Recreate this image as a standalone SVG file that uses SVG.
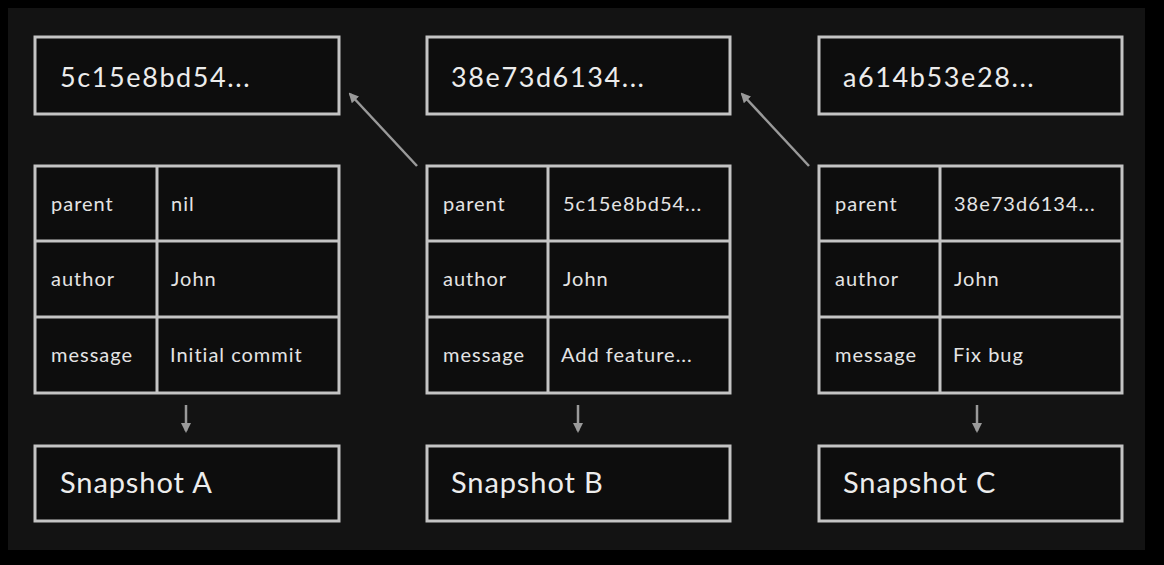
<svg xmlns="http://www.w3.org/2000/svg" width="1164" height="565" viewBox="0 0 1164 565">
<defs>
<style>
.box{fill:#0d0d0d;stroke:#c4c4c4;stroke-width:3}
.ln{stroke:#c4c4c4;stroke-width:3}
.hash{font-family:Lato,"Noto Sans",sans-serif;font-size:27px;fill:#ececec;letter-spacing:1.6px}
.snap{font-family:Lato,"Noto Sans",sans-serif;font-size:29px;fill:#ececec;letter-spacing:0.9px}
.cell{font-family:Lato,"Noto Sans",sans-serif;font-size:20px;fill:#e4e4e4;letter-spacing:1px}
.conn{stroke:#9a9a9a;stroke-width:2.5;fill:none}
</style>
<marker id="ah" viewBox="0 0 10 10" refX="8" refY="5" markerWidth="4" markerHeight="4" orient="auto">
<path d="M0,0 L10,5 L0,10 z" fill="#9a9a9a"/>
</marker>
</defs>
<rect width="1164" height="565" fill="#000"/>
<rect x="8" y="8" width="1137" height="542" fill="#131313"/>

<g id="commit-a">
<rect class="box" x="35" y="37" width="304" height="77"/>
<text class="hash" x="60" y="87">5c15e8bd54...</text>
<rect class="box" x="35" y="166" width="304" height="227"/>
<line class="ln" x1="157" y1="166" x2="157" y2="393"/>
<line class="ln" x1="35" y1="241" x2="339" y2="241"/>
<line class="ln" x1="35" y1="317" x2="339" y2="317"/>
<text class="cell" x="51" y="211">parent</text>
<text class="cell" x="171" y="211">nil</text>
<text class="cell" x="51" y="286">author</text>
<text class="cell" x="171" y="286">John</text>
<text class="cell" x="51" y="362">message</text>
<text class="cell" x="170" y="362">Initial commit</text>
</g>
<g id="snapshot-a">
<rect class="box" x="35" y="446" width="304" height="75"/>
<text class="snap" x="60" y="493">Snapshot A</text>
</g>

<g id="commit-b">
<rect class="box" x="427" y="37" width="303" height="77"/>
<text class="hash" x="451" y="87">38e73d6134...</text>
<rect class="box" x="427" y="166" width="303" height="227"/>
<line class="ln" x1="548" y1="166" x2="548" y2="393"/>
<line class="ln" x1="427" y1="241" x2="730" y2="241"/>
<line class="ln" x1="427" y1="317" x2="730" y2="317"/>
<text class="cell" x="443" y="211">parent</text>
<text class="cell" x="563" y="211">5c15e8bd54...</text>
<text class="cell" x="443" y="286">author</text>
<text class="cell" x="563" y="286">John</text>
<text class="cell" x="443" y="362">message</text>
<text class="cell" x="561" y="362">Add feature...</text>
</g>
<g id="snapshot-b">
<rect class="box" x="427" y="446" width="303" height="75"/>
<text class="snap" x="451" y="493">Snapshot B</text>
</g>

<g id="commit-c">
<rect class="box" x="819" y="37" width="303" height="77"/>
<text class="hash" x="843" y="87">a614b53e28...</text>
<rect class="box" x="819" y="166" width="303" height="227"/>
<line class="ln" x1="940" y1="166" x2="940" y2="393"/>
<line class="ln" x1="819" y1="241" x2="1122" y2="241"/>
<line class="ln" x1="819" y1="317" x2="1122" y2="317"/>
<text class="cell" x="835" y="211">parent</text>
<text class="cell" x="954" y="211">38e73d6134...</text>
<text class="cell" x="835" y="286">author</text>
<text class="cell" x="954" y="286">John</text>
<text class="cell" x="835" y="362">message</text>
<text class="cell" x="953" y="362">Fix bug</text>
</g>
<g id="snapshot-c">
<rect class="box" x="819" y="446" width="303" height="75"/>
<text class="snap" x="843" y="493">Snapshot C</text>
</g>

<g id="connectors">
<line class="conn" x1="417" y1="166" x2="350" y2="94" marker-end="url(#ah)"/>
<line class="conn" x1="809" y1="166" x2="742" y2="94" marker-end="url(#ah)"/>
<line class="conn" x1="186" y1="405" x2="186" y2="431" marker-end="url(#ah)"/>
<line class="conn" x1="578" y1="405" x2="578" y2="431" marker-end="url(#ah)"/>
<line class="conn" x1="977" y1="405" x2="977" y2="431" marker-end="url(#ah)"/>
</g>
</svg>
